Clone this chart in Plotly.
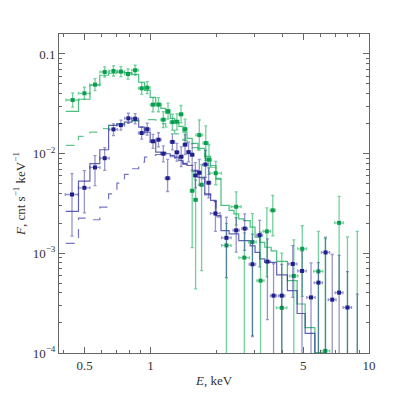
import plotly.graph_objects as go

# energy grid (keV) for the folded model steps
model_edges = [0.41, 0.469, 0.529, 0.587, 0.644, 0.703, 0.761, 0.823, 0.884, 0.940,
               0.998, 1.058, 1.117, 1.175, 1.233, 1.292, 1.350, 1.409, 1.471, 1.553,
               1.651, 1.774, 1.886, 1.995, 2.104, 2.291, 2.411, 2.537, 2.672, 2.861,
               3.011, 3.169, 3.336, 3.568, 3.782, 4.233, 4.69, 5.105, 5.655, 6.264, 6.9]

green_model = [0.0265, 0.0351, 0.0485, 0.0611, 0.064, 0.0655, 0.0648, 0.0625, 0.052, 0.0431,
               0.0367, 0.032, 0.0285, 0.0253, 0.0226, 0.0206, 0.0188, 0.0164, 0.0142, 0.0127,
               0.0113, 0.0094, 0.0076, 0.00565, 0.00302, 0.00269, 0.00249, 0.00222, 0.00213, 0.00183,
               0.00145, 0.00129, 0.00115, 0.00106, 0.000832, 0.000532, 0.00031, 0.00018, 0.000101, 0.00009]
blue_model = [0.00264, 0.0053, 0.00793, 0.01094, 0.0192, 0.0199, 0.0207, 0.0216, 0.01846, 0.01644,
              0.01306, 0.01036, 0.0103, 0.00997, 0.0096, 0.00923, 0.00855, 0.008, 0.0076, 0.00678,
              0.00577, 0.00395, 0.00339, 0.00239, 0.00169, 0.00157, 0.00157, 0.00134, 0.00134, 0.00119,
              0.00102, 0.000879, 0.000813, 0.000813, 0.000607, 0.000422, 0.000249, 0.000157, 0.00008, 0.00006]
# second model component (dashed), only up to ~2.1 keV where it merges with the total
green_comp = [0.0121, 0.0149, 0.01644, 0.0178, 0.0192, 0.0200, 0.0207, 0.0212, 0.0219, 0.0219,
              0.0219, 0.0200, 0.0200, 0.0185, 0.0171, 0.0158, 0.0146, 0.0136, 0.0125, 0.0115,
              0.0105, 0.0090, 0.0073, 0.0055]
blue_comp = [0.00126, 0.00225, 0.00217, 0.0029, 0.00395, 0.00506, 0.00618, 0.00705, 0.00822, 0.00923,
             0.0096, 0.0098, 0.0099, 0.0097, 0.0093, 0.0090, 0.0083, 0.0078, 0.0074, 0.0066,
             0.0056, 0.00385, 0.0033, 0.00232]

# green spectrum
green_E = [0.441, 0.499, 0.558, 0.618, 0.678, 0.733, 0.790, 0.852, 0.912, 0.967,
           1.028, 1.089, 1.146, 1.204, 1.261, 1.322, 1.381, 1.441, 1.553, 1.610,
           1.674, 1.715, 1.792, 1.853, 1.991, 2.228, 2.469, 2.69, 2.93, 3.19,
           3.41, 3.63, 3.99, 4.53, 4.95, 5.87, 6.31, 7.30, 7.97, 8.84]
green_dE = [0.03, 0.03, 0.03, 0.03, 0.03, 0.03, 0.03, 0.03, 0.03, 0.03,
            0.03, 0.03, 0.03, 0.03, 0.03, 0.03, 0.03, 0.03, 0.03, 0.03,
            0.06, 0.03, 0.05, 0.05, 0.12, 0.11, 0.13, 0.15, 0.12, 0.12,
            0.13, 0.1, 0.22, 0.2, 0.23, 0.28, 0.3, 0.33, 0.35, 0.4]
green_F = [0.0345, 0.0403, 0.0492, 0.0659, 0.0675, 0.0665, 0.0629, 0.0686, 0.0452, 0.0459,
           0.031, 0.031, 0.0219, 0.0267, 0.0207, 0.0209, 0.0248, 0.0176, 0.00424, 0.00344,
           0.01535, 0.00487, 0.01276, 0.00868, 0.00637, 0.0012, 0.00293, 0.000905, 0.0013, 0.000532,
           0.00166, 0.0027, 0.000284, 0.000593, 0.00111, 0.000659, 0.000105, 0.00202, 0.00006, 0.00006]
green_up = [0.0061, 0.006, 0.0073, 0.0081, 0.0083, 0.0082, 0.0077, 0.0084, 0.0067, 0.0068,
            0.0055, 0.0055, 0.0044, 0.0054, 0.0042, 0.0042, 0.0056, 0.0046, 0.0025, 0.002,
            0.0064, 0.0029, 0.0062, 0.0036, 0.002, 0.0008, 0.0012, 0.0007, 0.0012, 0.0011,
            0.0012, 0.0011, 0.00072, 0.00077, 0.00078, 0.001, 0.0013, 0.0017, 0.0014, 0.0016]
green_dn = [0.0052, 0.0052, 0.0064, 0.0072, 0.0074, 0.0073, 0.0069, 0.0075, 0.0059, 0.006,
            0.0047, 0.0047, 0.0037, 0.0045, 0.0035, 0.0036, 0.0045, 0.0036, 0.0031, 0.003,
            0.0045, 0.0042, 0.0042, 0.0025, 0.0015, 0.00119, 0.001, 0.000899, 0.00115, 0.000529,
            0.00108, 0.0012, 0.000283, 0.00059, 0.00074, 0.000655, 0.000104, 0.0016, 0.0000599, 0.0000599]

# blue spectrum
blue_E = [0.438, 0.499, 0.558, 0.618, 0.678, 0.733, 0.793, 0.852, 0.912, 0.967,
          1.028, 1.089, 1.146, 1.199, 1.261, 1.322, 1.383, 1.441, 1.495, 1.553,
          1.606, 1.674, 1.787, 1.848, 1.984, 2.228, 2.469, 2.70, 2.93, 3.16,
          3.43, 3.66, 3.99, 4.48, 4.94, 5.43, 5.87, 6.33, 6.79, 7.30, 7.97, 8.84]
blue_dE = [0.03, 0.03, 0.03, 0.03, 0.03, 0.03, 0.03, 0.03, 0.03, 0.03,
           0.03, 0.03, 0.03, 0.03, 0.03, 0.03, 0.03, 0.03, 0.03, 0.03,
           0.03, 0.03, 0.05, 0.04, 0.1, 0.11, 0.08, 0.08, 0.1, 0.1,
           0.1, 0.12, 0.13, 0.2, 0.22, 0.24, 0.25, 0.27, 0.28, 0.3, 0.35, 0.4]
blue_F = [0.00389, 0.00454, 0.00727, 0.009, 0.0175, 0.0193, 0.0226, 0.0224, 0.0161, 0.0176,
          0.0133, 0.0138, 0.00998, 0.00567, 0.0131, 0.0103, 0.0093, 0.0123, 0.01035, 0.00975,
          0.00604, 0.00643, 0.00778, 0.0051, 0.00251, 0.00143, 0.0017, 0.00177, 0.000776, 0.00152,
          0.000826, 0.000376, 0.000376, 0.000782, 0.000665, 0.000361, 0.000508, 0.00102, 0.000343, 0.000403,
          0.000286, 0.00005]
blue_up = [0.0024, 0.0022, 0.0023, 0.0025, 0.0024, 0.0024, 0.0028, 0.0028, 0.0024, 0.0026,
           0.0023, 0.0024, 0.002, 0.0031, 0.0027, 0.0024, 0.0024, 0.0032, 0.0027, 0.0028,
           0.0021, 0.0023, 0.003, 0.0021, 0.00083, 0.00087, 0.00058, 0.00072, 0.00078, 0.00062,
           0.00057, 0.00041, 0.0004, 0.00041, 0.00038, 0.00044, 0.0003, 0.00043, 0.00063, 0.00055,
           0.00037, 0.00034]
blue_dn = [0.0024, 0.002, 0.0025, 0.0022, 0.0023, 0.0021, 0.0025, 0.0025, 0.0021, 0.0023,
           0.002, 0.0021, 0.0017, 0.0015, 0.0022, 0.0019, 0.0019, 0.0025, 0.0021, 0.0021,
           0.0015, 0.0016, 0.002, 0.0015, 0.00085, 0.00086, 0.00067, 0.0007, 0.00063, 0.00079,
           0.00061, 0.000375, 0.000375, 0.00042, 0.000664, 0.00036, 0.000507, 0.00101, 0.000342, 0.000402,
           0.000285, 0.0000499]

x_ticks = [0.5, 1, 5, 10]
x_ticktext = ["0.5", "1", "5", "10"]
x_minor = [0.4, 0.6, 0.7, 0.8, 0.9, 2, 3, 4, 6, 7, 8, 9]
y_ticks = [1e-4, 1e-3, 1e-2, 0.1]
y_ticktext = ["10<sup>\u22124</sup>", "10<sup>\u22123</sup>", "10<sup>\u22122</sup>", "0.1"]
y_minor = [2e-4, 3e-4, 4e-4, 5e-4, 6e-4, 7e-4, 8e-4, 9e-4,
           2e-3, 3e-3, 4e-3, 5e-3, 6e-3, 7e-3, 8e-3, 9e-3,
           2e-2, 3e-2, 4e-2, 5e-2, 6e-2, 7e-2, 8e-2, 9e-2]

GREEN = "#0c9e50"
GREEN_LT = "rgba(40,185,105,0.65)"
BLUE = "#20208c"
BLUE_LT = "rgba(45,45,150,0.5)"


def steps(edges, vals):
    return edges[:len(vals) + 1], list(vals) + [vals[-1]]


fig = go.Figure()

# model steps
for vals, col, dash in [(green_model, "rgba(30,175,95,0.8)", "solid"),
                        (blue_model, "rgba(45,45,155,0.75)", "solid"),
                        (green_comp, "rgba(30,175,95,0.7)", "dash"),
                        (blue_comp, "rgba(60,60,165,0.7)", "dash")]:
    sx, sy = steps(model_edges, vals)
    fig.add_trace(go.Scatter(x=sx, y=sy, mode="lines", line_shape="hv",
                             line=dict(color=col, width=1.2, dash=dash), hoverinfo="skip"))

# data points
for E, dE, F, up, dn, col, lt in [(green_E, green_dE, green_F, green_up, green_dn, GREEN, GREEN_LT),
                                  (blue_E, blue_dE, blue_F, blue_up, blue_dn, BLUE, BLUE_LT)]:
    fig.add_trace(go.Scatter(
        x=E, y=F, mode="markers",
        marker=dict(symbol="square", size=4, color=col),
        error_x=dict(type="data", array=dE, color=lt, thickness=1.3, width=1.5),
        error_y=dict(type="data", symmetric=False, array=up, arrayminus=dn,
                     color=lt, thickness=1.3, width=1.5),
    ))

axis_font = dict(family="Liberation Serif, DejaVu Serif, serif", size=13, color="#333")
common = dict(showline=True, linecolor="#666", linewidth=1, mirror="allticks",
              ticks="inside", ticklen=6, tickcolor="#666", tickwidth=1,
              showgrid=False, zeroline=False, tickfont=axis_font)

fig.update_xaxes(type="log", range=[-0.418, 1.0], tickvals=x_ticks, ticktext=x_ticktext,
                 minor=dict(tickvals=x_minor, ticks="inside", ticklen=3, tickcolor="#666"),
                 title=dict(text="<i>E</i>, keV", font=axis_font, standoff=4), **common)
fig.update_yaxes(type="log", range=[-4.0, -0.8], tickvals=y_ticks, ticktext=y_ticktext,
                 minor=dict(tickvals=y_minor, ticks="inside", ticklen=3, tickcolor="#666"),
                 title=dict(text="<i>F</i>, cnt s<sup>\u22121</sup> keV<sup>\u22121</sup>",
                            font=axis_font, standoff=4), **common)

# page body adds an 8px offset, so the figure is a bit smaller than the window
fig.update_layout(width=395, height=395, showlegend=False,
                  margin=dict(l=42, r=34, t=26, b=50),
                  plot_bgcolor="white", paper_bgcolor="white")

fig.write_html("out.html")
